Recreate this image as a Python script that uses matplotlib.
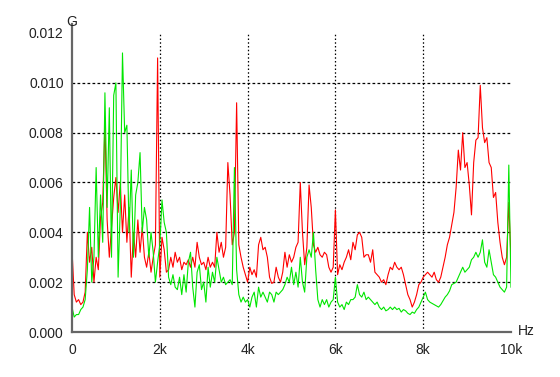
import numpy as np
from matplotlib import pyplot as plt

# frequency grid, 50 Hz steps
freq = np.arange(0, 10001, 50)

# red trace (mG)
red_0_2k = [3.3, 1.5, 1.2, 1.3, 1.1, 1.2, 1.6, 4.0, 2.8, 3.4,
            2.0, 3.0, 2.5, 4.6, 5.2, 8.4, 4.5, 3.0, 4.2, 5.4,
            6.2, 4.8, 6.0, 4.0, 5.5, 3.6, 5.0, 2.2, 4.0, 3.0,
            4.5, 3.2, 4.2, 3.0, 2.6, 3.2, 2.4, 3.0, 3.5, 11.0,
            2.2]
red_2k_4k = [3.8, 3.3, 2.4, 2.5, 3.0, 2.6, 3.2, 2.8, 3.0, 2.5,
             2.8, 2.7, 2.9, 2.6, 3.0, 2.6, 3.6, 3.0, 2.7, 2.8,
             2.5, 3.0, 2.6, 2.8, 2.6, 4.0, 3.2, 3.6, 3.0, 3.4,
             6.8, 5.5, 3.5, 4.0, 9.2, 3.5, 3.0, 2.6, 2.3, 2.0]
red_4k_6k = [2.6, 2.3, 2.5, 2.2, 3.5, 3.8, 3.3, 3.4, 3.0, 2.2,
             1.95, 2.0, 2.6, 2.2, 2.0, 2.4, 3.2, 2.6, 3.1, 2.8,
             3.0, 3.4, 3.6, 6.0, 4.0, 2.7, 3.4, 5.9, 5.0, 3.5,
             3.2, 3.4, 3.1, 3.0, 3.2, 3.1, 2.6, 2.4, 2.6, 4.9]
red_6k_8k = [2.3, 2.7, 2.5, 2.8, 3.0, 3.3, 2.9, 3.6, 3.3, 3.9,
             4.0, 3.8, 3.0, 3.1, 3.1, 2.8, 3.3, 2.4, 2.3, 2.2,
             2.0, 2.1, 1.9, 2.3, 2.6, 2.5, 2.8, 2.6, 2.5, 2.6,
             2.3, 1.9, 1.5, 1.3, 1.0, 1.2, 1.5, 1.9, 2.0, 2.2]
red_8k_10k = [2.3, 2.4, 2.3, 2.2, 2.4, 2.1, 2.0, 2.2, 2.6, 3.0,
              3.5, 3.8, 4.3, 4.8, 5.8, 7.3, 6.5, 8.0, 6.6, 6.8,
              5.9, 4.7, 6.8, 7.7, 7.8, 9.9, 8.2, 7.6, 7.8, 6.8,
              6.6, 5.4, 5.6, 4.4, 3.6, 3.0, 2.7, 3.0, 5.2, 2.9]

# green trace (mG)
green_0_2k = [1.0, 0.6, 0.7, 0.7, 0.9, 1.0, 1.3, 2.5, 5.0, 2.0,
              3.0, 6.6, 3.0, 5.5, 3.6, 9.6, 5.0, 9.0, 3.0, 9.5,
              10.0, 2.2, 5.0, 11.2, 8.0, 8.3, 4.0, 6.5, 3.0, 5.5,
              6.0, 7.2, 4.0, 5.0, 4.5, 3.0, 4.0, 3.2, 2.0, 2.8,
              3.5]
green_2k_4k = [5.3, 4.4, 4.0, 2.2, 1.9, 2.3, 1.8, 1.7, 2.2, 1.5,
               2.3, 1.6, 2.8, 3.2, 1.8, 1.0, 2.4, 2.7, 1.7, 2.0,
               1.2, 2.6, 1.8, 2.4, 2.0, 3.0, 2.5, 2.0, 2.2, 1.9,
               2.0, 2.1, 1.9, 6.6, 2.5, 1.5, 1.2, 1.4, 1.2, 1.3]
green_4k_6k = [1.0, 1.4, 1.6, 1.0, 1.8, 1.4, 1.6, 1.4, 1.2, 1.6,
               1.5, 1.2, 1.6, 1.5, 1.6, 1.7, 1.9, 2.2, 2.0, 2.6,
               1.9, 2.4, 1.8, 3.0, 2.0, 1.6, 3.0, 3.3, 3.0, 4.0,
               2.5, 1.3, 1.0, 1.3, 1.1, 1.3, 1.0, 1.2, 1.3, 2.2]
green_6k_8k = [1.2, 1.0, 1.1, 0.9, 1.2, 1.1, 1.3, 1.3, 1.4, 1.9,
               1.5, 1.4, 1.6, 1.3, 1.4, 1.3, 1.2, 1.1, 1.2, 1.0,
               0.9, 1.0, 0.85, 0.9, 1.0, 0.9, 1.0, 0.9, 0.95, 0.8,
               0.9, 0.85, 0.75, 0.7, 0.8, 0.75, 0.9, 1.0, 1.2, 1.4]
green_8k_10k = [1.6, 1.3, 1.2, 1.15, 1.1, 1.05, 1.0, 1.1, 1.25, 1.4,
                1.5, 1.65, 1.9, 1.95, 2.0, 2.2, 2.4, 2.6, 2.4, 2.5,
                2.6, 2.9, 3.0, 3.2, 3.0, 3.2, 3.7, 2.8, 2.6, 3.3,
                2.8, 2.3, 2.2, 2.0, 1.8, 1.7, 1.6, 1.8, 6.7, 1.8]

xticks = [0, 2000, 4000, 6000, 8000, 10000]
xtick_labels = ['0', '2k', '4k', '6k', '8k', '10k']
yticks = [0.0, 0.002, 0.004, 0.006, 0.008, 0.010, 0.012]

red = np.array(red_0_2k + red_2k_4k + red_4k_6k + red_6k_8k + red_8k_10k) * 1e-3
green = np.array(green_0_2k + green_2k_4k + green_4k_6k + green_6k_8k
                 + green_8k_10k) * 1e-3

plt.rcParams['font.family'] = ['Liberation Sans', 'DejaVu Sans']

fig = plt.figure(figsize=(5.6, 3.77), dpi=100)
ax = fig.add_axes([72 / 560, 1 - 332 / 377, 439 / 560, 299 / 377])

ax.plot(freq, red, color='#ff0000', lw=0.8)
ax.plot(freq, green, color='#00e600', lw=0.8)

ax.set_xlim(0, 10000)
ax.set_ylim(0, 0.012)

# dotted grid, no line at the axis ends
for x in xticks[1:-1]:
    ax.axvline(x, color='black', lw=0.9, ls=(0, (1.2, 1.8)), zorder=0)
for y in yticks[1:-1]:
    ax.axhline(y, color='black', lw=0.9, ls=(0, (2.2, 1.8)), zorder=0)

ax.set_xticks(xticks)
ax.set_xticklabels(xtick_labels)
ax.set_yticks(yticks)
ax.set_yticklabels(['%.3f' % v for v in yticks])
ax.tick_params(length=0, labelsize=10, labelcolor='#222222')
ax.tick_params(axis='y', pad=6)
ax.tick_params(axis='x', pad=8)

for side in ['top', 'right']:
    ax.spines[side].set_visible(False)
for side in ['left', 'bottom']:
    ax.spines[side].set_color('#666666')
    ax.spines[side].set_linewidth(1.6)
ax.spines['left'].set_bounds(0, 0.01235)

fig.text(72 / 560, 1 - 22 / 377, 'G', ha='center', va='center',
         fontsize=10, color='#222222')
fig.text(518 / 560, 1 - 331 / 377, 'Hz', ha='left', va='center',
         fontsize=10, color='#222222')

plt.savefig('out.png', dpi=100)
